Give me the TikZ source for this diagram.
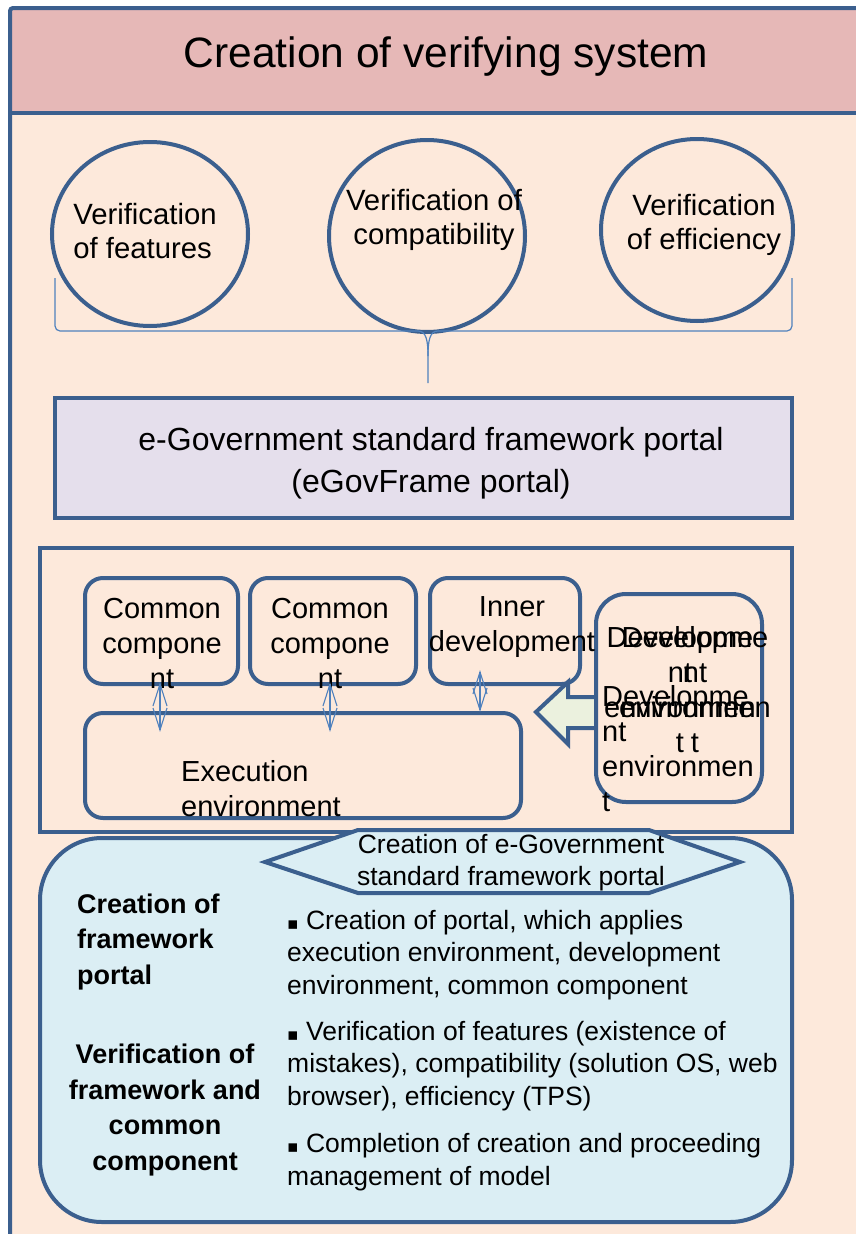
\documentclass[tikz,border=0pt]{standalone}
\usepackage{fontspec}
\setmainfont{Liberation Sans}
\newfontfamily\bulletfont{DejaVu Sans}
\usetikzlibrary{arrows.meta,shapes.geometric,positioning,calc}

\definecolor{frameblue}{HTML}{3B5F8E}
\definecolor{lineblue}{HTML}{4F81BD}
\definecolor{peach}{HTML}{FDE9DB}
\definecolor{rosy}{HTML}{E6B8B7}
\definecolor{lilac}{HTML}{E5DFEC}
\definecolor{paleblue}{HTML}{DBEEF4}
\definecolor{palegreen}{HTML}{EBF1DE}

\tikzset{
  bluebox/.style={draw=frameblue, line width=4pt},
  verifnode/.style={ellipse, bluebox, inner sep=0pt},
  partbox/.style={rectangle, bluebox, rounded corners=18pt, inner sep=0pt},
  txt/.style={inner sep=0pt, align=center, font=\fontsize{29}{35}\selectfont},
  linkline/.style={draw=lineblue, line width=1.1pt, line join=miter},
  bracepart/.style={draw=lineblue, line width=1.2pt},
  bullettxt/.style={inner sep=0pt, align=left, anchor=west, font=\fontsize{26.5}{32.5}\selectfont},
  sidetxt/.style={inner sep=0pt, font=\bfseries\fontsize{27}{35.5}\selectfont}
}
\newcommand{\sqbullet}{{\bulletfont\fontsize{17}{17}\selectfont ▪}}
\newcommand{\twoway}[2]{%
  \draw[linkline] (#1) -- (#2);
  \draw[linkline] ($(#1)+(-7,22)$) -- (#1) -- ($(#1)+(7,22)$);
  \draw[linkline] ($(#2)+(-7,-22)$) -- (#2) -- ($(#2)+(7,-22)$);}

\begin{document}
\begin{tikzpicture}[x=1pt,y=-1pt]
  \useasboundingbox (0,0) rectangle (856,1234);
  \fill[white] (0,0) rectangle (856,1234);
  \fill[peach] (10,8) rectangle (860,1250);
  \fill[rosy] (10,8) rectangle (860,113);
  \draw[bluebox] (10,113) -- (860,113);
  \draw[bluebox, rounded corners=3pt] (10,8) rectangle (860,1250);
  \node[inner sep=0pt, font=\fontsize{42.5}{50}\selectfont] (title) at (446,57) {Creation of verifying system};

  \node[verifnode, minimum width=196pt, minimum height=184pt] (feat) at (150,234) {};
  \node[verifnode, minimum width=196pt, minimum height=192pt] (compat) at (427,236) {};
  \node[verifnode, minimum width=192pt, minimum height=182pt] (effic) at (697,230) {};
  \node[txt, align=left, font=\fontsize{29.3}{34}\selectfont] (featlbl) at (145,231) {Verification\\of features};
  \node[txt, font=\fontsize{29.3}{34}\selectfont] (compatlbl) at (434,220) {Verification of\\compatibility};
  \node[txt, font=\fontsize{29.3}{34}\selectfont] (efficlbl) at (704,225) {Verification\\of efficiency};

  \coordinate (braceL) at (55,278);
  \coordinate (braceR) at (792,278);
  \coordinate (braceTip) at (428,383);
  \draw[bracepart, rounded corners=5pt] (braceL) -- (55,331) -- (418,331);
  \draw[bracepart] (418,331) .. controls (426,331) and (428,340) .. (428,356) -- (braceTip);
  \draw[bracepart] (438,331) .. controls (430,331) and (428,340) .. (428,356);
  \draw[bracepart, rounded corners=5pt] (438,331) -- (792,331) -- (braceR);

  \node[bluebox, fill=lilac, minimum width=737pt, minimum height=120pt, inner sep=0pt] (portal) at (423.5,458) {};
  \node[txt, font=\fontsize{32}{42}\selectfont] (portallbl) at (431,463) {e-Government standard framework portal\\(eGovFrame portal)};

  \node[bluebox, minimum width=752pt, minimum height=284pt] (platform) at (416,690) {};
  \node[partbox, minimum width=153pt, minimum height=106pt] (comp1) at (161.5,631) {};
  \node[partbox, minimum width=166pt, minimum height=106pt] (comp2) at (333,631) {};
  \node[partbox, minimum width=150pt, minimum height=106pt] (inner) at (505,631) {};
  \node[partbox, minimum width=436pt, minimum height=105pt] (exec) at (303,765.5) {};
  \draw[bluebox, fill=palegreen, line join=miter] (597,697) -- (568,697) -- (568,682) -- (536,712) -- (568,744) -- (568,728) -- (597,728);
  \node[partbox, rounded corners=30pt, minimum width=166pt, minimum height=208pt] (devenv) at (679,698) {};

  \node[txt] (comp1lbl) at (162,643) {Common\\compone\\nt};
  \node[txt] (comp2lbl) at (330,643) {Common\\compone\\nt};
  \node[txt] (innerlbl) at (512,627) {Inner\\development};
  \node[txt, align=left, anchor=west] (execlbl) at (181,789) {Execution\\environment};
  \node[txt] (devlblA) at (680,690) {Developme\\nt\\environmen\\t};
  \node[txt] (devlblB) at (695,690) {Developme\\nt\\environmen\\t};
  \node[txt, align=left, anchor=west] (devlblC) at (602,749) {Developme\\nt\\environmen\\t};

  \coordinate (comp1foot) at ($(comp1.south)+(-1.5,-2)$);
  \coordinate (comp2foot) at ($(comp2.south)+(-3,-2)$);
  \coordinate (innerfoot) at ($(inner.south)+(-25,-14)$);
  \coordinate (exectop1) at ($(exec.north -| comp1foot)+(0,19)$);
  \coordinate (exectop2) at ($(exec.north -| comp2foot)+(0,19)$);
  \coordinate (exectop3) at ($(exec.north -| innerfoot)+(0,-1)$);
  \twoway{comp1foot}{exectop1}
  \twoway{comp2foot}{exectop2}
  \twoway{innerfoot}{exectop3}

  \node[bluebox, fill=paleblue, rounded corners=62pt, minimum width=752pt, minimum height=384pt] (summary) at (416,1030) {};
  \draw[bluebox, fill=paleblue, line join=miter] (265,862) -- (358,830) -- (649,830) -- (740,862) -- (649,893) -- (358,893) -- cycle;
  \node[txt, font=\fontsize{26.5}{32}\selectfont] (hexlbl) at (511,863) {Creation of e-Government\\standard framework portal};

  \node[sidetxt, align=left, anchor=west] (portalstep) at (77,942) {Creation of\\framework\\portal};
  \node[sidetxt, align=center] (verifstep) at (165,1110) {Verification of\\framework and\\common\\component};

  \node[bullettxt] (item1) at (287,955) {\sqbullet\ Creation of portal, which applies\\execution environment, development\\environment, common component};
  \node[bullettxt] (item2) at (287,1066) {\sqbullet\ Verification of features (existence of\\mistakes), compatibility (solution OS, web\\browser), efficiency (TPS)};
  \node[bullettxt] (item3) at (287,1162) {\sqbullet\ Completion of creation and proceeding\\management of model};
\end{tikzpicture}
\end{document}
